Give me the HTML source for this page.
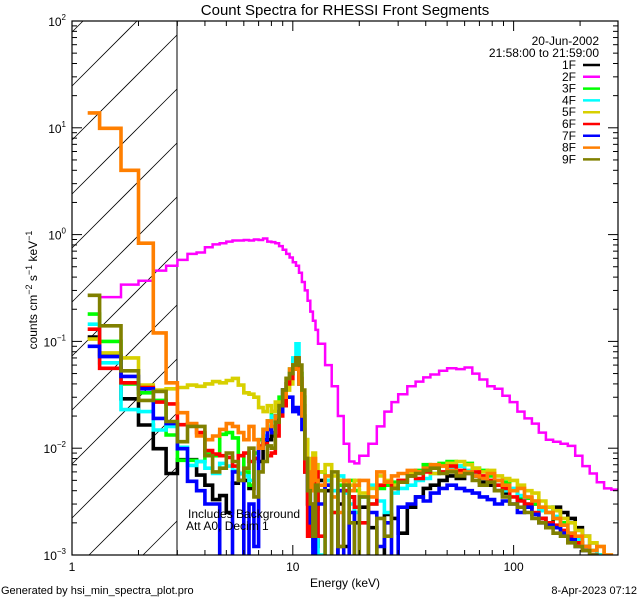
<!DOCTYPE html>
<html><head><meta charset="utf-8"><style>
html,body{margin:0;padding:0;background:#fff;width:640px;height:600px;overflow:hidden;}
svg{display:block;font-family:"Liberation Sans",sans-serif;}
</style></head><body>
<svg id="chart" width="640" height="600" viewBox="0 0 640 600">
<defs><clipPath id="plotclip"><rect x="72" y="21" width="546" height="534"/></clipPath></defs>
<text x="345" y="15" font-size="15" text-anchor="middle">Count Spectra for RHESSI Front Segments</text>
<g id="hatch"></g>
<line x1="177" y1="21" x2="177" y2="555" stroke="#000" stroke-width="1"/>
<g id="series" clip-path="url(#plotclip)"></g>
<g id="axes"></g>
<text x="188" y="518" font-size="12">Includes Background</text>
<text x="186" y="530" font-size="12">Att A0, Decim 1</text>
<text transform="translate(37,290) rotate(-90)" font-size="12" text-anchor="middle">counts cm<tspan dy="-5" font-size="9">−2</tspan><tspan dy="5"> s</tspan><tspan dy="-5" font-size="9">−1</tspan><tspan dy="5"> keV</tspan><tspan dy="-5" font-size="9">−1</tspan></text>
<text x="345" y="587" font-size="12" text-anchor="middle">Energy (keV)</text>
<text x="1" y="594" font-size="11">Generated by hsi_min_spectra_plot.pro</text>
<text x="637" y="594" font-size="11" text-anchor="end">8-Apr-2023 07:12</text>
<g id="legend"></g>
</svg>
<script>
const lowEdges = [1,1.3333,1.6667,2,2.3333,2.6667,3,3.3333,3.6667,4,4.3333,4.6667,5,5.3333,5.6667,6,6.3333,6.6667,7,7.3333,7.6667,8,8.3333,8.6667,9,9.3333,9.6667,10,10.3333,10.6667,11,11.3333,11.6667,12,12.3333,12.6667];
const highEdges = [13,14,15,16,17,18,19,20,22,24,26,28,30,33,36,39,42,46,50,55,60,65,70,76,82,89,96,104,112,121,130,140,151,163,176,190,205,221,238,257,277,297];
const seriesNames = ["1F","2F","3F","4F","5F","6F","7F","8F","9F"];
const seriesColors = ["#000000","#ff00ff","#00ff00","#00ffff","#d8d000","#ff0000","#0000ff","#ff7f00","#808000"];
const d1F = [0.11,0.075,0.029,0.0165,0.0099,0.0058,0.0078,0.0078,0.0056,0.0045,0.0033,0.0036,0.0025,0.0047,0.0058,0.005,0.0042,0.008,0.0075,0.011,0.012,0.013,0.018,0.022,0.035,0.04,0.05,0.055,0.06,0.04,0.02,0.006,0.003,0.0015,0.0025,0.0012,
 0.005,0.004,0.0009,0.003,0.0012,0.0035,0.002,0.0028,0.0018,0.0009,0.0024,0.0022,0.0016,0.0028,0.0035,0.0042,0.0045,0.005,0.0055,0.0052,0.006,0.0055,0.0048,0.0045,0.004,0.0038,0.004,0.0033,0.0028,0.003,0.0022,0.0018,0.0028,0.0025,0.0022,0.0018,0.0015,0.0013,0.001,0.0009,0.0009];
const d2F = [null,0.26,0.34,0.37,0.46,0.51,0.58,0.66,0.68,0.76,0.81,0.83,0.86,0.88,0.88,0.89,0.88,0.90,0.89,0.92,0.86,0.85,0.83,0.78,0.72,0.66,0.61,0.55,0.51,0.44,0.36,0.30,0.24,0.19,0.156,0.128,
 0.095,0.06,0.038,0.02,0.011,0.0075,0.0072,0.0085,0.011,0.016,0.022,0.027,0.032,0.038,0.042,0.046,0.049,0.053,0.056,0.055,0.057,0.05,0.044,0.038,0.036,0.031,0.027,0.022,0.019,0.017,0.014,0.012,0.0115,0.011,0.0105,0.0085,0.0068,0.0058,0.0048,0.0042,0.0041];
const d3F = [0.18,0.1,0.04,0.033,0.028,0.0133,0.0077,0.0077,0.0075,0.0088,0.0085,0.0135,0.014,0.0125,0.0085,0.006,0.0045,0.009,0.012,0.015,0.018,0.022,0.025,0.03,0.035,0.045,0.055,0.06,0.065,0.05,0.03,0.012,0.005,0.004,0.006,0.003,
 0.006,0.005,0.0025,0.0045,0.004,0.005,0.004,0.0035,0.003,0.0042,0.0045,0.0048,0.005,0.0055,0.0062,0.007,0.0065,0.0072,0.0075,0.0068,0.0072,0.0065,0.0062,0.0055,0.005,0.0048,0.004,0.0035,0.0034,0.003,0.0028,0.0025,0.0022,0.002,0.0016,0.0014,0.0012,0.0011,0.001,0.0009,0.0009];
const d4F = [0.145,0.063,0.023,0.022,0.0148,0.016,0.0102,0.0069,0.0075,0.0065,0.0058,0.0072,0.0068,0.0062,0.0058,0.0055,0.005,0.008,0.01,0.013,0.016,0.02,0.02,0.025,0.03,0.04,0.05,0.07,0.095,0.05,0.02,0.01,0.004,0.002,0.0012,0.0025,
 0.001,0.005,0.004,0.0055,0.0038,0.003,0.0025,0.0035,0.0045,0.0032,0.0025,0.0038,0.0042,0.0045,0.005,0.0052,0.0058,0.006,0.0065,0.0068,0.0062,0.0058,0.0052,0.005,0.0045,0.004,0.0042,0.0036,0.003,0.0032,0.0026,0.0028,0.0023,0.0019,0.0016,0.0014,0.0012,0.0011,0.001,0.0009,0.0009];
const d5F = [0.105,0.078,0.07,0.039,0.035,0.036,0.037,0.039,0.038,0.04,0.042,0.041,0.043,0.045,0.039,0.033,0.032,0.03,0.024,0.022,0.025,0.022,0.027,0.025,0.03,0.035,0.04,0.055,0.06,0.05,0.03,0.012,0.008,0.006,0.009,0.007,
 0.006,0.007,0.0055,0.005,0.0048,0.0045,0.005,0.0038,0.0042,0.0055,0.005,0.0045,0.005,0.0058,0.006,0.0062,0.0058,0.0068,0.0072,0.0075,0.007,0.0065,0.006,0.0062,0.0055,0.0052,0.005,0.0045,0.004,0.0038,0.0032,0.0028,0.0026,0.0022,0.002,0.0017,0.0015,0.0013,0.0012,0.001,0.0009];
const d6F = [0.13,0.056,0.041,0.037,0.027,0.026,0.0166,0.0168,0.014,0.0095,0.0088,0.0085,0.0082,0.0068,0.0085,0.009,0.0075,0.008,0.0105,0.011,0.0085,0.009,0.013,0.02,0.025,0.04,0.045,0.06,0.07,0.045,0.025,0.006,0.0015,0.003,0.0025,0.006,
 0.0015,0.0045,0.0025,0.0012,0.004,0.0035,0.0028,0.002,0.003,0.0045,0.0048,0.0042,0.005,0.0055,0.0052,0.006,0.0065,0.006,0.0068,0.0062,0.0058,0.006,0.0055,0.005,0.0045,0.0042,0.0035,0.0032,0.003,0.0025,0.0022,0.002,0.0019,0.0017,0.0015,0.0013,0.0012,0.001,0.0009,0.0009,0.0009];
const d7F = [0.09,0.072,0.047,0.036,0.019,0.017,0.0099,0.0049,0.004,0.003,0.003,0.0009,0.0009,0.006,0.005,0.0009,0.003,0.0012,0.01,0.012,0.015,0.014,0.02,0.022,0.035,0.03,0.03,0.022,0.024,0.021,0.015,0.008,0.004,0.002,0.0009,0.003,
 0.003,0.0045,0.0009,0.004,0.0009,0.0025,0.0009,0.0009,0.0025,0.0012,0.002,0.0009,0.0028,0.003,0.0035,0.0032,0.0038,0.0042,0.0045,0.0042,0.004,0.0038,0.0035,0.0033,0.003,0.0032,0.003,0.0025,0.0028,0.0024,0.002,0.0019,0.0018,0.0016,0.0014,0.0012,0.0011,0.001,0.0009,0.0009,0.0009];
const d8F = [13.8,9.9,4.0,0.83,0.12,0.041,0.0215,0.017,0.013,0.012,0.013,0.015,0.017,0.016,0.014,0.012,0.016,0.012,0.01,0.015,0.018,0.016,0.02,0.025,0.03,0.045,0.055,0.06,0.055,0.04,0.02,0.008,0.006,0.004,0.008,0.005,
 0.0045,0.0055,0.0035,0.0025,0.005,0.004,0.0045,0.005,0.0035,0.006,0.0048,0.0055,0.0058,0.0062,0.006,0.0065,0.007,0.0068,0.0062,0.0058,0.006,0.0055,0.0052,0.0058,0.005,0.0045,0.004,0.0042,0.0035,0.0032,0.0028,0.0025,0.0022,0.0019,0.0016,0.0015,0.0012,0.0011,0.0012,0.001,0.0009];
const d9F = [0.27,0.14,0.053,0.028,0.034,0.0178,0.0115,0.016,0.016,0.0085,0.006,0.0065,0.009,0.0075,0.005,0.0065,0.01,0.0035,0.006,0.0075,0.0105,0.01,0.0175,0.025,0.035,0.045,0.05,0.06,0.07,0.06,0.035,0.008,0.004,0.003,0.0015,0.0045,
 0.004,0.0009,0.006,0.0012,0.0045,0.002,0.0009,0.0035,0.0009,0.0022,0.0015,0.0042,0.0048,0.0055,0.0058,0.0062,0.0065,0.0058,0.006,0.0055,0.0058,0.005,0.0045,0.0048,0.004,0.0035,0.003,0.0028,0.0025,0.0022,0.002,0.0018,0.0016,0.0015,0.0013,0.0012,0.0011,0.001,0.0009,0.0009,0.0009];
const seriesData = [d1F,d2F,d3F,d4F,d5F,d6F,d7F,d8F,d9F];
const xTickLabels = ["1","10","100"];
const yTickExps = ["-3","-2","-1","0","1","2"];

const NS = "http://www.w3.org/2000/svg";
const X0=72, X1=618, Y0=21, Y1=555;
const XMIN=0, XMAX=Math.log10(297);
const YMIN=-3, YMAX=2;
function xs(e){return X0+(Math.log10(e)-XMIN)/(XMAX-XMIN)*(X1-X0);}
function ys(v){return Y1-(Math.log10(v)-YMIN)/(YMAX-YMIN)*(Y1-Y0);}
function mk(tag,attrs,parent){const el=document.createElementNS(NS,tag);for(const k in attrs)el.setAttribute(k,attrs[k]);parent.appendChild(el);return el;}

const edges = lowEdges.concat(highEdges);
const hatch=document.getElementById('hatch');
for(let c=32;c<Y1+105;c+=54){
  const xa=Math.max(72,72+c-Y1), xb=Math.min(177,72+c-Y0);
  if(xa>=xb) continue;
  const ln=mk('line',{x1:xa,y1:c-(xa-72),x2:xb,y2:c-(xb-72),stroke:'#000','stroke-width':0.8},hatch);
  
  
}
const sg=document.getElementById('series');
seriesData.forEach((data,si)=>{
  let d='', started=false;
  const n=Math.min(data.length, edges.length-1);
  for(let i=0;i<n;i++){
    const v=data[i];
    if(v==null){started=false;continue;}
    let e0=edges[i], e1=edges[i+1];
    if(i===0) e0=Math.sqrt(edges[0]*edges[1])*1.02;
    const y=Math.min(ys(v),Y1+2);
    if(!started){d+=`M${xs(e0).toFixed(1)},${y.toFixed(1)}`;started=true;}
    else d+=`L${xs(e0).toFixed(1)},${y.toFixed(1)}`;
    d+=`L${xs(e1).toFixed(1)},${y.toFixed(1)}`;
  }
  const p=mk('path',{d:d,fill:'none',stroke:seriesColors[si],'stroke-width':si===1?2.5:3.6,'stroke-linejoin':'miter'},sg);
  
  
});
const ag=document.getElementById('axes');
const frame=mk('rect',{x:X0,y:Y0,width:X1-X0,height:Y1-Y0,fill:'none',stroke:'#000','stroke-width':1.2},ag);


for(let dec=0;dec<=2;dec++){
  for(let m=1;m<=9;m++){
    const e=m*Math.pow(10,dec); if(e>297)break;
    const x=xs(e), L=m===1?10:5;
    mk('line',{x1:x,y1:Y1,x2:x,y2:Y1-L,stroke:'#000'},ag);
    mk('line',{x1:x,y1:Y0,x2:x,y2:Y0+L,stroke:'#000'},ag);
  }
}
xTickLabels.forEach(t=>{
  const tx=mk('text',{x:xs(parseFloat(t)),y:571,'font-size':12,'text-anchor':'middle'},ag);
  tx.textContent=t;
  
  
});
for(let p=-3;p<=2;p++){
  for(let m=1;m<=9;m++){
    const v=m*Math.pow(10,p); if(p===2&&m>1)break;
    const y=ys(v), L=m===1?10:5;
    mk('line',{x1:X0,y1:y,x2:X0+L,y2:y,stroke:'#000'},ag);
    mk('line',{x1:X1,y1:y,x2:X1-L,y2:y,stroke:'#000'},ag);
  }
}
yTickExps.forEach(ex=>{
  const y=ys(Math.pow(10,parseFloat(ex)));
  const tx=mk('text',{x:66,y:y+5,'font-size':12,'text-anchor':'end'},ag);
  tx.innerHTML='10<tspan dy="-6" font-size="8">'+ex.replace('-','−')+'</tspan>';
  
  
});
const lg=document.getElementById('legend');


const t1=mk('text',{x:599,y:45,'font-size':12,'text-anchor':'end'},lg);t1.textContent='20-Jun-2002';


const t2=mk('text',{x:599,y:57,'font-size':12,'text-anchor':'end'},lg);t2.textContent='21:58:00 to 21:59:00';


seriesNames.forEach((nm,i)=>{
  const y=65+i*11.8;
  const g=mk('g',{},lg);
  
  
  const tx=mk('text',{x:576,y:y+4,'font-size':12,'text-anchor':'end'},g);tx.textContent=nm;
  mk('line',{x1:583,y1:y,x2:600,y2:y,stroke:seriesColors[i],'stroke-width':2.5},g);
});
</script>
</body></html>
